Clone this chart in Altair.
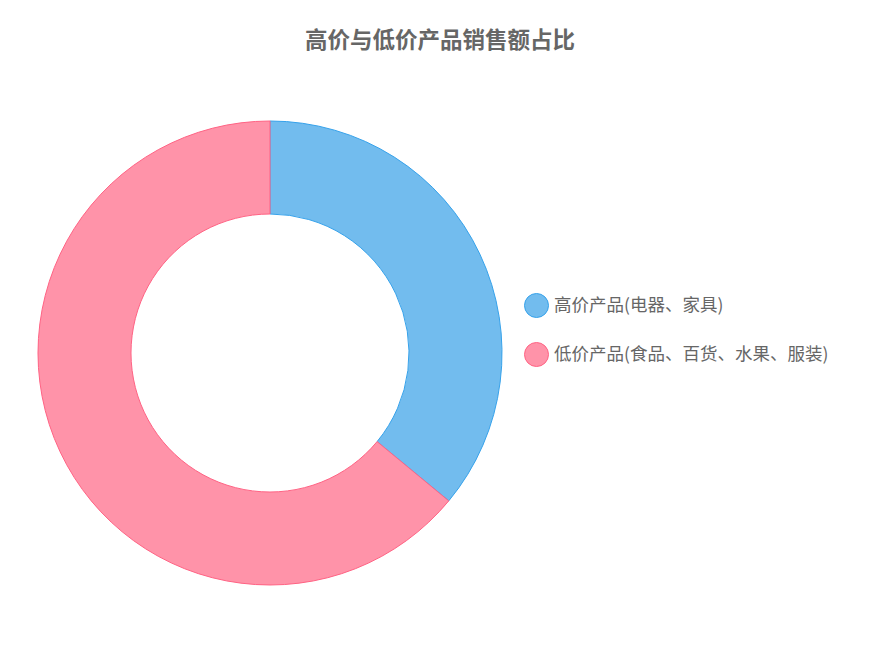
import altair as alt
import pandas as pd

categories = ["高价产品(电器、家具)", "低价产品(食品、百货、水果、服装)"]
shares = [36, 64]
fills = ["#72BCEE", "#FF93A9"]
strokes = ["#36A2EB", "#FF6384"]
order = [0, 1]

df = pd.DataFrame({"category": categories, "share": shares, "order": order})

FONT = "Noto Sans CJK SC"

legend_cfg = dict(
    title=None,
    orient="none",
    legendX=516,
    legendY=217,
    symbolType="circle",
    symbolSize=576,
    symbolStrokeWidth=1,
    labelFont=FONT,
    labelFontSize=17.5,
    labelColor="#666666",
    labelOffset=5,
    rowPadding=20,
    padding=0,
    labelLimit=400,
)

chart = (
    alt.Chart(df)
    .mark_arc(innerRadius=139, outerRadius=232, x=262, y=277, strokeWidth=1)
    .encode(
        theta=alt.Theta("share:Q", stack=True),
        order=alt.Order("order:Q"),
        color=alt.Color(
            "category:N",
            scale=alt.Scale(domain=categories, range=fills),
            sort=categories,
            legend=alt.Legend(**legend_cfg),
        ),
        stroke=alt.Stroke(
            "category:N",
            scale=alt.Scale(domain=categories, range=strokes),
            sort=categories,
            legend=alt.Legend(**legend_cfg),
        ),
    )
    .properties(
        width=864,
        height=575,
        padding={"left": 0, "right": 0, "top": 68, "bottom": 0},
        autosize=alt.AutoSizeParams(type="none"),
        title=alt.TitleParams(
            "高价与低价产品销售额占比",
            font=FONT,
            fontSize=22.5,
            fontWeight="bold",
            color="#666666",
            anchor="middle",
            offset=24,
        ),
    )
    .configure_view(stroke=None)
)

chart.save("out.html", embed_options={"renderer": "svg", "actions": False})
